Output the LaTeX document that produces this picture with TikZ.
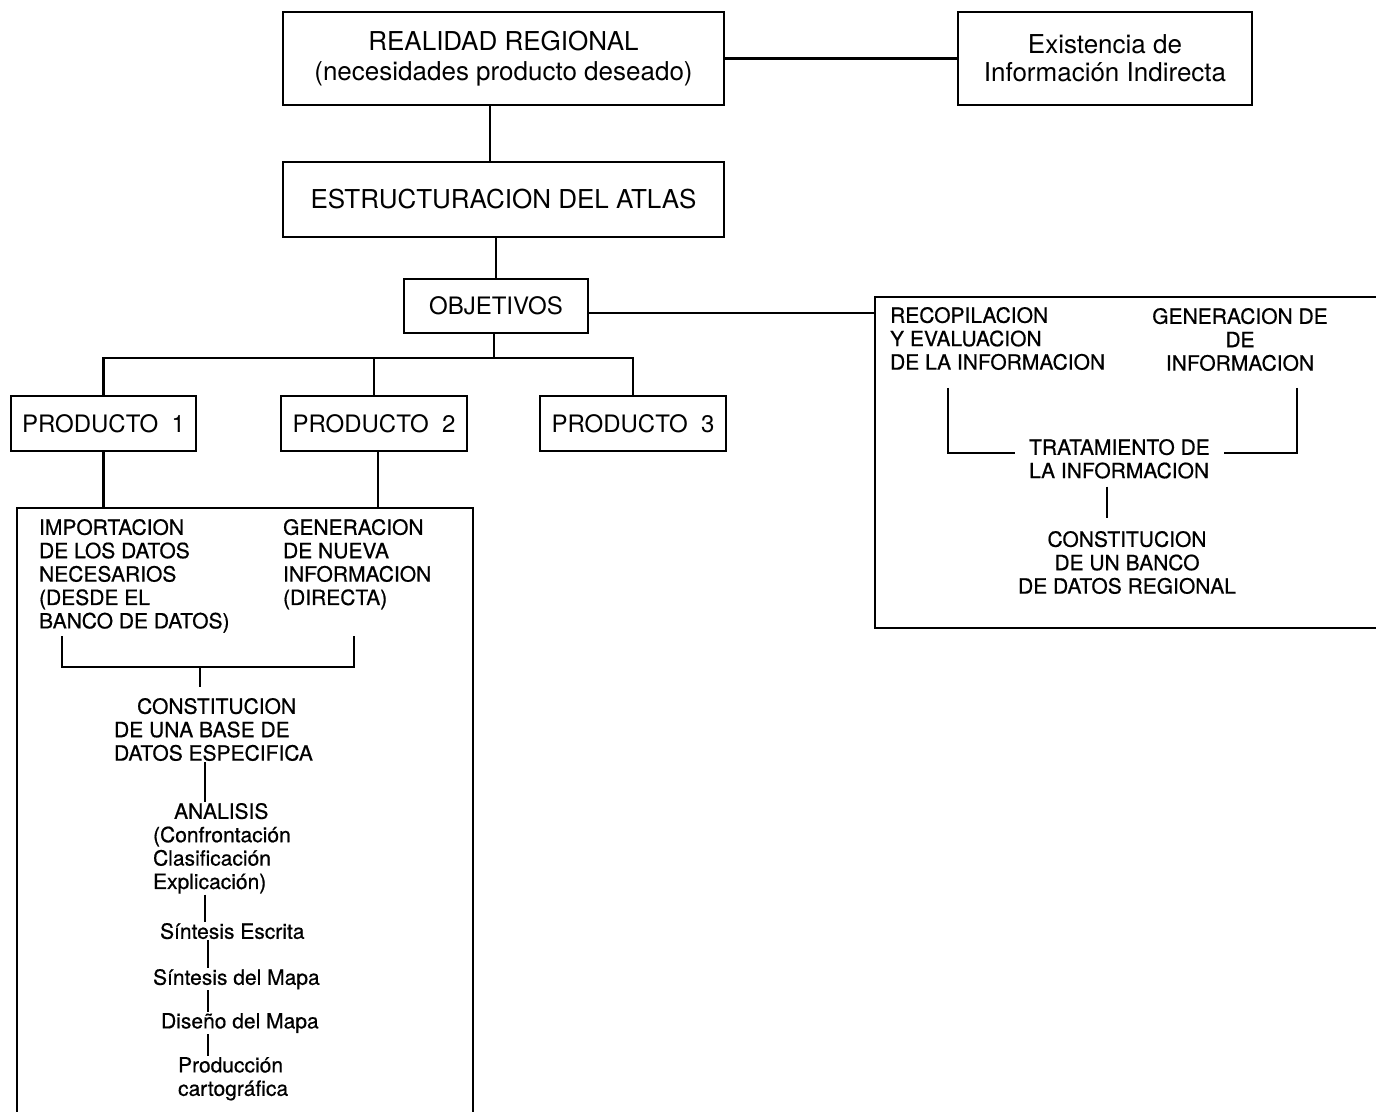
\documentclass[tikz,border=0pt]{standalone}
\usepackage{fontspec}
\setmainfont{TeX Gyre Heros}
\newfontfamily\heavyfont{TeX Gyre Heros}[BoldFont={TeX Gyre Heros}, BoldFeatures={FakeBold=0.6}]
\usetikzlibrary{positioning}

\begin{document}
\begin{tikzpicture}[
  x=0.5pt, y=-0.5pt,
  line width=1.1pt,
  box/.style={draw, align=center, inner sep=2pt},
  bigbox/.style={box, font=\fontsize{13}{15}\selectfont, minimum height=46.5pt},
  smallbox/.style={box, font=\fontsize{12}{14}\selectfont, minimum height=27.5pt},
  txt/.style={inner sep=0pt, anchor=north west, align=left, font=\heavyfont\bfseries\fontsize{10.5}{11.7}\selectfont},
  ctxt/.style={txt, anchor=north, align=center}
]
  \useasboundingbox (0,0) rectangle (1376,1112);

  % upper chain
  \node[bigbox, minimum width=220.5pt] (real) at (503.5,58.5) {REALIDAD REGIONAL\\(necesidades producto deseado)};
  \node[bigbox, minimum width=147pt, font=\fontsize{13}{14}\selectfont] (exist) at (1105,58.5) {Existencia de\\Información Indirecta};
  \node[bigbox, minimum width=220.5pt, minimum height=37.5pt] (estr) at (503.5,199.5) {ESTRUCTURACION DEL ATLAS};
  \node[smallbox, minimum width=92pt, minimum height=27pt] (obj) at (496,306) {OBJETIVOS};
  \node[smallbox, minimum width=92.5pt] (prod1) at (103.5,423.5) {PRODUCTO\ \ 1};
  \node[smallbox, minimum width=93pt] (prod2) at (374,423.5) {PRODUCTO\ \ 2};
  \node[smallbox, minimum width=93pt] (prod3) at (633,423.5) {PRODUCTO\ \ 3};

  \draw (real) -- (exist);
  \draw ([xshift=-6.75pt]real.south) -- ([xshift=-6.75pt]estr.north);
  \draw (obj.north |- estr.south) -- (obj.north);

  \coordinate (fork) at (494,358);
  \draw (obj.south -| fork) -- (fork);
  \draw (prod1.north) |- (fork) -| (prod3.north);
  \draw (prod2.north) -- (prod2.north |- fork);

  % right panel
  \draw (1376,297) -- (875,297) -- (875,628) -- (1376,628);
  \coordinate (rp) at (875,313);
  \draw ([yshift=-3.5pt]obj.east) -- (rp);

  \node[txt] (recop) at (889,306) {RECOPILACION\\Y EVALUACION\\DE LA INFORMACION};
  \node[ctxt] (genr) at (1240,307) {GENERACION DE\\DE\\INFORMACION};
  \node[txt, inner xsep=6.5pt] (trat) at (1015,438) {TRATAMIENTO DE\\LA INFORMACION};
  \node[ctxt] (cbanco) at (1127,530) {CONSTITUCION\\DE UN BANCO\\DE DATOS REGIONAL};

  \coordinate (rbl) at (948,388);
  \coordinate (rbr) at (1297,388);
  \coordinate (rspine) at (1107,0);
  \draw (rbl) |- ([yshift=2.75pt]trat.west);
  \draw (rbr) |- ([yshift=2.75pt]trat.east);
  \draw[shorten <=3.5pt, shorten >=6pt] (trat.south -| rspine) -- (cbanco.north -| rspine);

  % left panel
  \draw (17,1112) |- (473,508) -- (473,1112);
  \coordinate (ltop) at (0,508);
  \draw (prod1.south) -- (prod1.south |- ltop);
  \draw ([xshift=2pt]prod2.south) -- ([xshift=2pt]prod2.south |- ltop);

  \node[txt] (imp) at (38,518) {IMPORTACION\\DE LOS DATOS\\NECESARIOS\\(DESDE EL\\BANCO DE DATOS)};
  \node[txt] (gen) at (282,518) {GENERACION\\DE NUEVA\\INFORMACION\\(DIRECTA)};
  \node[txt] (cbase) at (113,697) {\hspace*{11.5pt}CONSTITUCION\\DE UNA BASE DE\\DATOS ESPECIFICA};
  \node[txt] (anal) at (152,802) {\hspace*{10.5pt}ANALISIS\\(Confrontación\\Clasificación\\Explicación)};
  \node[txt] (sesc) at (159,922) {Síntesis Escrita};
  \node[txt] (smap) at (152,968) {Síntesis del Mapa};
  \node[txt] (dmap) at (160,1012) {Diseño del Mapa};
  \node[txt] (prodc) at (177,1056) {Producción\\cartográfica};

  \coordinate (bkl) at (62,636);
  \coordinate (bkr) at (354,636);
  \coordinate (bkm) at (200,667);
  \draw (bkl) |- (bkm) -| (bkr);
  \draw[shorten >=5pt] (bkm) -- (cbase.north -| bkm);

  \coordinate (spine) at (205,0);
  \coordinate (spinb) at (208,0);
  \draw (cbase.south -| spine) -- (anal.north -| spine);
  \draw (anal.south -| spine) -- (sesc.north -| spine);
  \draw (sesc.south -| spinb) -- (smap.north -| spinb);
  \draw (smap.south -| spinb) -- (dmap.north -| spinb);
  \draw (dmap.south -| spinb) -- (prodc.north -| spinb);
\end{tikzpicture}
\end{document}
